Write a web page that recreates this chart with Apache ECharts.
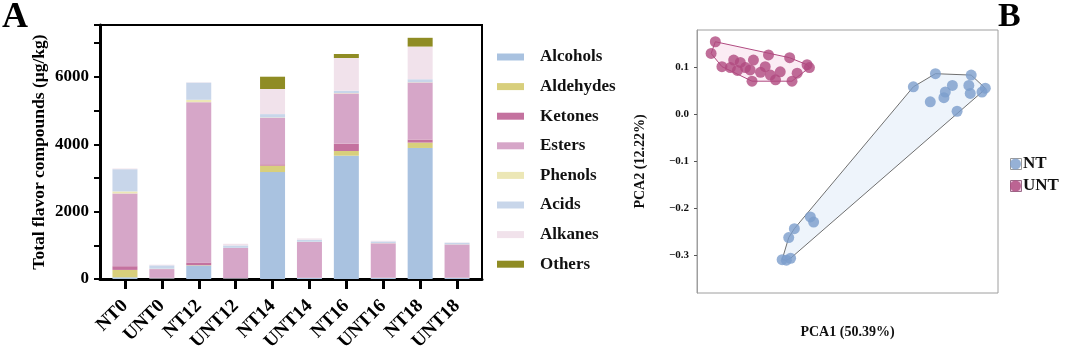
<!DOCTYPE html>
<html>
<head>
<meta charset="utf-8">
<script src="https://cdn.jsdelivr.net/npm/echarts@6/dist/echarts.min.js"></script>
<style>
  html, body { margin: 0; padding: 0; background: #fff; }
  #chart { width: 1080px; height: 354px; }
</style>
</head>
<body>
<div id="chart"></div>
<script>
// Panel A: stacked flavor compounds (µg/kg)
const categories = ['NT0', 'UNT0', 'NT12', 'UNT12', 'NT14', 'UNT14', 'NT16', 'UNT16', 'NT18', 'UNT18'];
const alcohols  = [50, 20, 400, 20, 3175, 30, 3660, 30, 3890, 30];
const aldehydes = [220, 5, 10, 5, 190, 5, 140, 5, 160, 5];
const ketones   = [110, 10, 80, 5, 40, 5, 220, 5, 90, 5];
const esters    = [2160, 260, 4760, 890, 1380, 1060, 1490, 1020, 1690, 985];
const phenols   = [60, 10, 70, 5, 10, 5, 10, 5, 10, 5];
const acids     = [660, 100, 510, 70, 100, 60, 70, 50, 90, 45];
const alkanes   = [20, 20, 10, 50, 745, 40, 970, 20, 970, 10];
const others    = [0, 0, 0, 0, 365, 0, 120, 0, 260, 0];

// Panel B: PCA scores [PCA1, PCA2]
const ntPoints = [
    [0.180, 0.059], [0.227, 0.087], [0.303, 0.084], [0.263, 0.062], [0.248, 0.048],
    [0.245, 0.036], [0.216, 0.027], [0.298, 0.062], [0.301, 0.045], [0.326, 0.048],
    [0.333, 0.056], [0.273, 0.007], [-0.039, -0.218], [-0.032, -0.229], [-0.073, -0.243],
    [-0.085, -0.262], [-0.099, -0.309], [-0.081, -0.306], [-0.090, -0.310]
];
const untPoints = [
    [-0.241, 0.155], [-0.250, 0.130], [-0.227, 0.102], [-0.202, 0.116], [-0.209, 0.100],
    [-0.177, 0.100], [-0.160, 0.116], [-0.167, 0.095], [-0.128, 0.127], [-0.135, 0.102],
    [-0.124, 0.084], [-0.103, 0.091], [-0.113, 0.074], [-0.163, 0.071], [-0.083, 0.121],
    [-0.067, 0.088], [-0.078, 0.071], [-0.046, 0.106], [-0.041, 0.100], [-0.188, 0.111],
    [-0.145, 0.090], [-0.194, 0.094]
];
const pcaTicks = [-0.3, -0.2, -0.1, 0, 0.1];

const SERIF = '"Liberation Serif", "DejaVu Serif", serif';

const COLORS = {
    Alcohols: '#a9c2e0',
    Aldehydes: '#d8cf7c',
    Ketones: '#c4729f',
    Esters: '#d6a6c8',
    Phenols: '#ece7b6',
    Acids: '#c8d6ea',
    Alkanes: '#f1e2eb',
    Others: '#8f8c24',
    NT: '#7c9dcc',
    UNT: '#b04a80'
};

// convex hull (monotone chain), for the group envelopes
const convexHull = (pts) => {
    const p = pts.slice().sort((a, b) => a[0] - b[0] || a[1] - b[1]);
    const cross = (o, a, b) => (a[0] - o[0]) * (b[1] - o[1]) - (a[1] - o[1]) * (b[0] - o[0]);
    const lower = [];
    p.forEach(pt => {
        while (lower.length >= 2 && cross(lower[lower.length - 2], lower[lower.length - 1], pt) <= 0) lower.pop();
        lower.push(pt);
    });
    const upper = [];
    p.slice().reverse().forEach(pt => {
        while (upper.length >= 2 && cross(upper[upper.length - 2], upper[upper.length - 1], pt) <= 0) upper.pop();
        upper.push(pt);
    });
    return lower.slice(0, -1).concat(upper.slice(0, -1));
};

const hullSeries = (pts, fill, stroke) => ({
    type: 'custom',
    xAxisIndex: 2,
    yAxisIndex: 2,
    silent: true,
    z: 1,
    data: [0],
    renderItem: (params, api) => ({
        type: 'polygon',
        shape: { points: convexHull(pts).map(p => api.coord(p)) },
        style: { fill: fill, stroke: stroke, lineWidth: 1 }
    })
});

const stackNames = ['Alcohols', 'Aldehydes', 'Ketones', 'Esters', 'Phenols', 'Acids', 'Alkanes', 'Others'];
const stackData = [alcohols, aldehydes, ketones, esters, phenols, acids, alkanes, others];

const chart = echarts.init(document.getElementById('chart'));

chart.setOption({
    animation: false,
    textStyle: { fontFamily: SERIF },
    graphic: [
        { type: 'text', left: 2, top: 0, style: { text: 'A', font: 'bold 36px ' + SERIF, fill: '#000' } },
        { type: 'text', left: 998, top: 0, style: { text: 'B', font: 'bold 34px ' + SERIF, fill: '#000' } },
        // boxes behind the PCA legend icons
        { type: 'rect', left: 1010, top: 158, z: 0, shape: { width: 11, height: 11 }, style: { fill: '#fff', stroke: '#9a9a9a', lineWidth: 1 } },
        { type: 'rect', left: 1010, top: 180, z: 0, shape: { width: 11, height: 11 }, style: { fill: '#eccbe0', stroke: '#9a6a88', lineWidth: 1 } }
    ],
    legend: [
        {
            data: stackNames,
            orient: 'vertical',
            left: 497,
            top: 47,
            padding: 0,
            icon: 'rect',
            itemWidth: 27,
            itemHeight: 7,
            itemGap: 9.6,
            selectedMode: false,
            textStyle: { fontSize: 17, fontWeight: 'bold', color: '#111', fontFamily: SERIF, lineHeight: 20, padding: [0, 0, 0, 11] }
        },
        {
            data: ['NT', 'UNT'],
            orient: 'vertical',
            left: 1010,
            top: 154,
            padding: 0,
            icon: 'circle',
            itemWidth: 11,
            itemHeight: 11,
            itemGap: 2,
            selectedMode: false,
            textStyle: { fontSize: 17, fontWeight: 'bold', color: '#111', fontFamily: SERIF, lineHeight: 20, padding: [0, 0, 0, -3] }
        }
    ],
    grid: [
        // frame of panel A
        { left: 100, top: 25, width: 382, height: 254, show: true, borderColor: '#000', borderWidth: 2, backgroundColor: 'transparent' },
        // bars of panel A
        { left: 106.5, top: 25, width: 369, height: 254 },
        // PCA plot
        { left: 697, top: 30, width: 301, height: 263, show: true, borderColor: '#9e9e9e', borderWidth: 1, backgroundColor: 'transparent' }
    ],
    xAxis: [
        {
            gridIndex: 0, type: 'value', min: 0, max: 1,
            axisLine: { show: true, onZero: false, lineStyle: { color: '#000', width: 3 } },
            axisTick: { show: false }, axisLabel: { show: false }, splitLine: { show: false }
        },
        {
            gridIndex: 1, type: 'category', data: categories,
            axisLine: { show: false },
            axisTick: { show: true, alignWithLabel: true, length: 10, lineStyle: { color: '#000', width: 3 } },
            axisLabel: { rotate: 45, margin: 24, fontSize: 19, fontWeight: 'bold', color: '#000', fontFamily: SERIF, interval: 0 }
        },
        {
            gridIndex: 2, type: 'value', min: -0.28, max: 0.36,
            axisLine: { show: false, onZero: false }, axisTick: { show: false }, axisLabel: { show: false }, splitLine: { show: false },
            name: 'PCA1 (50.39%)', nameLocation: 'middle', nameGap: 32,
            nameTextStyle: { fontSize: 14, fontWeight: 'bold', color: '#111', fontFamily: SERIF }
        }
    ],
    yAxis: [
        {
            gridIndex: 0, type: 'value', min: 0, max: 7540, interval: 1000,
            axisLine: { show: true, lineStyle: { color: '#000', width: 3 } },
            axisTick: { show: true, length: 6, lineStyle: { color: '#000', width: 2 } },
            axisLabel: {
                margin: 11, fontSize: 17, fontWeight: 'bold', color: '#000', fontFamily: SERIF,
                formatter: v => (v % 2000 === 0 ? String(v) : '')
            },
            splitLine: { show: false },
            name: 'Total flavor compounds (μg/kg)', nameLocation: 'middle', nameRotate: 90, nameGap: 52,
            nameTextStyle: { fontSize: 17.5, fontWeight: 'bold', color: '#000', fontFamily: SERIF }
        },
        { gridIndex: 1, type: 'value', min: 0, max: 7540, show: false },
        {
            gridIndex: 2, type: 'value', min: -0.38, max: 0.18,
            axisLine: { show: true, onZero: false, lineStyle: { color: '#9e9e9e', width: 1 } },
            axisTick: { show: true, length: 3, customValues: pcaTicks, lineStyle: { color: '#555', width: 1 } },
            axisLabel: {
                margin: 8, fontSize: 11, fontWeight: 'bold', color: '#111', fontFamily: SERIF,
                customValues: pcaTicks,
                formatter: v => v.toFixed(1).replace('-', '\u2212')
            },
            splitLine: { show: false },
            name: 'PCA2 (12.22%)', nameLocation: 'middle', nameRotate: 90, nameGap: 50,
            nameTextStyle: { fontSize: 14, fontWeight: 'bold', color: '#111', fontFamily: SERIF }
        }
    ],
    series: stackNames.map((name, i) => ({
        name: name,
        type: 'bar',
        xAxisIndex: 1,
        yAxisIndex: 1,
        stack: 'total',
        barWidth: 25,
        itemStyle: { color: COLORS[name] },
        data: stackData[i]
    })).concat([
        hullSeries(ntPoints, 'rgba(226,236,248,0.6)', '#6f6f6f'),
        hullSeries(untPoints, 'rgba(250,228,240,0.7)', '#b04a80'),
        {
            name: 'NT', type: 'scatter', xAxisIndex: 2, yAxisIndex: 2, z: 3,
            symbolSize: 11, itemStyle: { color: COLORS.NT }, data: ntPoints
        },
        {
            name: 'UNT', type: 'scatter', xAxisIndex: 2, yAxisIndex: 2, z: 3,
            symbolSize: 11, itemStyle: { color: COLORS.UNT }, data: untPoints
        }
    ])
});
</script>
</body>
</html>
